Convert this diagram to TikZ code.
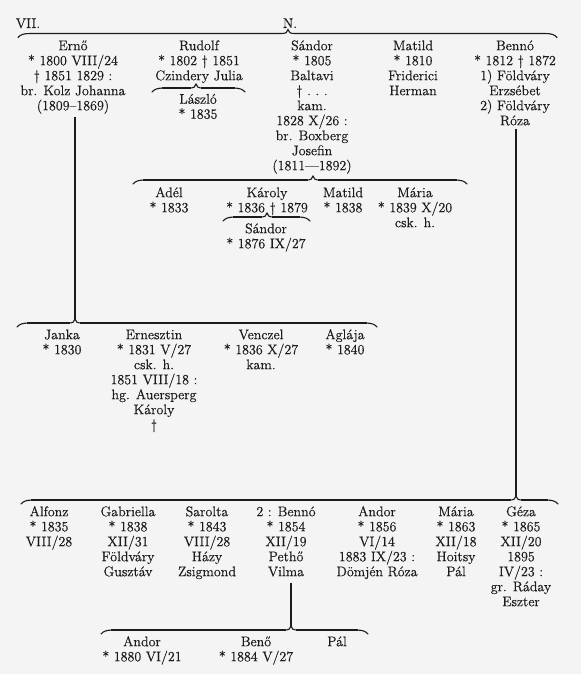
\documentclass[tikz,border=0pt]{standalone}
\usepackage{fontspec}
\setmainfont{Latin Modern Roman}[FakeBold=0.5]
\definecolor{bg}{RGB}{244,244,244}
\definecolor{ink}{RGB}{28,28,28}
\newcommand\fstrut{\rule{0pt}{11pt}}
\newcommand\gbr[5]{%
  \coordinate (#1) at (#3,#5-4);
  \draw[braceend] (#2,#5+4) .. controls (#2+2,#5+1.5) and (#2+5,#5) .. (#2+12,#5)
    -- (#3-7,#5) .. controls (#3-2,#5) and (#3-0.5,#5-1) .. (#1)
    .. controls (#3+0.5,#5-1) and (#3+2,#5) .. (#3+7,#5)
    -- (#4-12,#5) .. controls (#4-5,#5) and (#4-2,#5+1.5) .. (#4,#5+4);
  \draw[brace] (#2+10,#5) -- (#3-5,#5) (#3+5,#5) -- (#4-10,#5);
}
\begin{document}
\begin{tikzpicture}[x=1pt,y=-1pt,
  blk/.style={anchor=north, align=center, inner sep=0pt, font=\fontsize{14}{15}\selectfont, text=ink},
  lbl/.style={anchor=base, inner sep=0pt, font=\fontsize{14}{15}\selectfont, text=ink},
  braceend/.style={draw=ink, line width=1.1pt, line cap=round},
  brace/.style={draw=ink, line width=1.9pt},
  vline/.style={draw=ink, line width=1.8pt}]
\fill[bg] (0,0) rectangle (581,674);
\useasboundingbox (0,0) rectangle (581,674);

% heading
\node[lbl] (vii) at (28,28) {VII.};
\node[lbl] (nn) at (290,28) {N.};
\gbr{topC}{18}{288}{557}{33.5}

% first generation
\node[blk] (erno) at (73,39) {\fstrut Ernő\\{*} 1800 VIII/24\\\textdagger\ 1851 1829 :\\br. Kolz Johanna\\(1809--1869)};
\node[blk] (rudolf) at (199,39) {\fstrut Rudolf\\{*} 1802 \textdagger\ 1851\\Czindery Julia};
\gbr{rC}{152}{196}{245}{88}
\node[blk] (laszlo) at (198,92.5) {\fstrut László\\{*} 1835};
\node[blk] (sandor) at (312,39) {\fstrut Sándor\\{*} 1805\\Baltavi\\\textdagger\ .\ .\ .\\kam.\\1828 X/26 :\\br. Boxberg\\Josefin\\(1811---1892)};
\node[blk] (matild) at (413,39) {\fstrut Matild\\{*} 1810\\Friderici\\Herman};
\node[blk] (benno) at (515,39) {\fstrut Bennó\\{*} 1812 \textdagger\ 1872\\1) Földváry\\Erzsébet\\2) Földváry\\Róza};

% Sándor's children
\gbr{sC}{133}{313}{467}{180}
\node[blk] (adel) at (169,186) {\fstrut Adél\\{*} 1833};
\node[blk] (karoly) at (267,186) {\fstrut Károly\\{*} 1836 \textdagger\ 1879};
\gbr{kC}{223}{267}{310}{217}
\node[blk] (sandor2) at (266,222) {\fstrut Sándor\\{*} 1876 IX/27};
\node[blk] (matild2) at (343,186) {\fstrut Matild\\{*} 1838};
\node[blk] (maria) at (415,186) {\fstrut Mária\\{*} 1839 X/20\\csk. h.};

% Ernő's children
\gbr{eC}{17}{75}{377}{323}
\draw[vline, shorten <=3pt] (erno.south -| eC) -- (eC);
\node[blk] (janka) at (62,328) {\fstrut Janka\\{*} 1830};
\node[blk] (ernesztin) at (154,328) {\fstrut Ernesztin\\{*} 1831 V/27\\csk. h.\\1851 VIII/18 :\\hg. Auersperg\\Károly\\\textdagger};
\node[blk] (venczel) at (261,328) {\fstrut Venczel\\{*} 1836 X/27\\kam.};
\node[blk] (aglaja) at (345,328) {\fstrut Aglája\\{*} 1840};

% Bennó's children
\gbr{bC}{21}{516}{558}{500}
\draw[vline, shorten <=3pt] (benno.south -| bC) -- (bC);
\node[blk] (alfonz) at (49,505) {\fstrut Alfonz\\{*} 1835\\VIII/28};
\node[blk] (gabriella) at (128,505) {\fstrut Gabriella\\{*} 1838\\XII/31\\Földváry\\Gusztáv};
\node[blk] (sarolta) at (207,505) {\fstrut Sarolta\\{*} 1843\\VIII/28\\Házy\\Zsigmond};
\node[blk] (benno2) at (286,505) {\fstrut 2 : Bennó\\{*} 1854\\XII/19\\Pethő\\Vilma};
\node[blk] (andor) at (377,505) {\fstrut Andor\\{*} 1856\\VI/14\\1883 IX/23 :\\Dömjén Róza};
\node[blk] (maria2) at (456,505) {\fstrut Mária\\{*} 1863\\XII/18\\Hoitsy\\Pál};
\node[blk] (geza) at (521,505) {\fstrut Géza\\{*} 1865\\XII/20\\1895\\IV/23 :\\gr. Ráday\\Eszter};

% Bennó (2) children
\gbr{vC}{101}{291}{368}{630}
\draw[vline, shorten <=6pt] (benno2.south -| vC) -- (vC);
\node[blk] (andor2) at (142,635) {\fstrut Andor\\{*} 1880 VI/21};
\node[blk] (beno) at (256,635) {\fstrut Benő\\{*} 1884 V/27};
\node[blk] (pal) at (337,635) {\fstrut Pál};
\end{tikzpicture}
\end{document}
